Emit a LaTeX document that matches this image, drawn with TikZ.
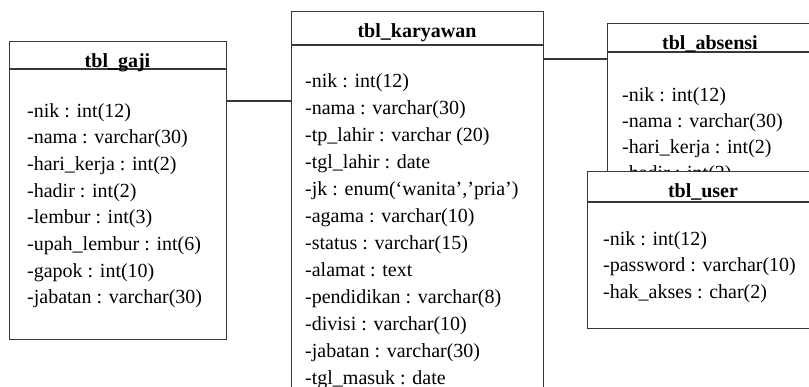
\documentclass[tikz,border=0pt]{standalone}
\usepackage{fontspec}
\setmainfont{Liberation Serif}
\begin{document}
\begin{tikzpicture}[x=1pt,y=-1pt,
  tblbox/.style={draw=black!78, line width=1.3pt, fill=white, rectangle, anchor=north west, inner sep=0pt},
  sepline/.style={draw=black!78, line width=1.3pt},
  conn/.style={draw=black!78, line width=1.3pt},
  ttl/.style={font=\fontsize{20}{24}\selectfont\bfseries, anchor=base, inner sep=0pt},
  attr/.style={font=\fontsize{20}{24}\selectfont, anchor=base west, inner sep=0pt}]
\useasboundingbox (0,0) rectangle (809,386);
\clip (0,0) rectangle (809,386);

% tbl_gaji
\node[tblbox, minimum width=217pt, minimum height=298pt] (gaji) at (9,41) {};
\draw[sepline] (9,69) -- (226,69);
\node[ttl] (gajiT) at (117.5,67) {tbl\_gaji};
\foreach \t [count=\i] in {-nik : int(12), -nama : varchar(30), -hari\_kerja : int(2), -hadir : int(2), -lembur : int(3), -upah\_lembur : int(6), -gapok : int(10), -jabatan : varchar(30)}
  \node[attr] (gaji\i) at (27,{117+26.7*(\i-1)}) {\t};

% tbl_karyawan
\node[tblbox, minimum width=252pt, minimum height=400pt] (kary) at (291,11) {};
\draw[sepline] (291,45) -- (543,45);
\node[ttl] (karyT) at (417,37) {tbl\_karyawan};
\foreach \t [count=\i] in {-nik : int(12), -nama : varchar(30), -tp\_lahir : varchar (20), -tgl\_lahir : date, {-jk : enum(‘wanita’,’pria’)}, -agama : varchar(10), -status : varchar(15), -alamat : text, -pendidikan : varchar(8), -divisi : varchar(10), -jabatan : varchar(30), -tgl\_masuk : date}
  \node[attr] (kary\i) at (305,{87+27*(\i-1)}) {\t};

% tbl_absensi
\node[tblbox, minimum width=206pt, minimum height=200pt] (abs) at (607,23) {};
\draw[sepline] (607,52) -- (813,52);
\node[ttl] (absT) at (710,49) {tbl\_absensi};
\foreach \t [count=\i] in {-nik : int(12), -nama : varchar(30), -hari\_kerja : int(2), -hadir : int(2)}
  \node[attr] (abs\i) at (622,{101+26*(\i-1)}) {\t};

% tbl_user
\node[tblbox, minimum width=232pt, minimum height=157pt] (user) at (587,171) {};
\draw[sepline] (587,202) -- (819,202);
\node[ttl] (userT) at (703,197) {tbl\_user};
\foreach \t [count=\i] in {-nik : int(12), -password : varchar(10), -hak\_akses : char(2)}
  \node[attr] (user\i) at (603,{245+26.5*(\i-1)}) {\t};

% connectors
\path (gaji.north east) ++(0,60) coordinate (g1);
\draw[conn] (g1) -- (g1 -| kary.west);
\path (kary.north east) ++(0,48) coordinate (k1);
\draw[conn] (k1) -- (k1 -| abs.west);
\end{tikzpicture}
\end{document}
